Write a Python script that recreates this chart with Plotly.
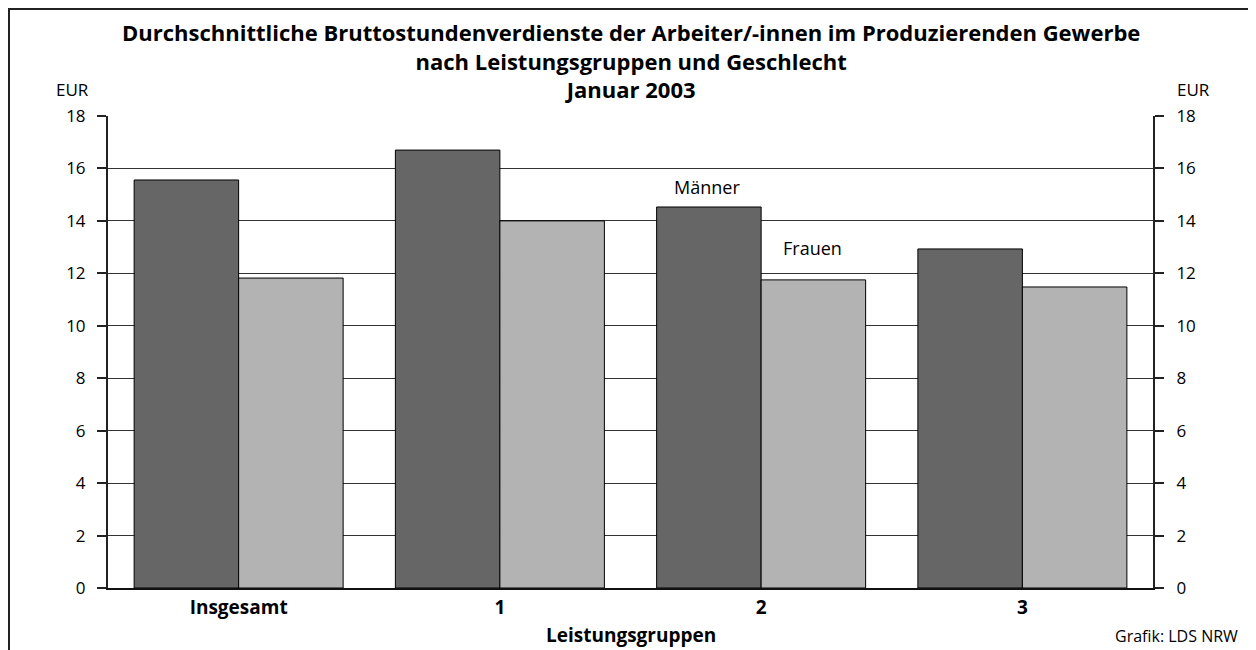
import plotly.graph_objects as go

categories = ["Insgesamt", "1", "2", "3"]
maenner = [15.56, 16.70, 14.53, 12.93]
frauen = [11.82, 14.00, 11.75, 11.48]
tick_vals = [0, 2, 4, 6, 8, 10, 12, 14, 16, 18]
tick_text = ["0", "2", "4", "6", "8", "10", "12", "14", "16", "18"]

title_lines = [
    "Durchschnittliche Bruttostundenverdienste der Arbeiter/-innen im Produzierenden Gewerbe",
    "nach Leistungsgruppen und Geschlecht",
    "Januar 2003",
]

FONT = "Open Sans"
W, H = 1248, 642
ML, MR, MT, MB = 100, 103, 108, 62

def px_x(px):
    return (px - ML) / (W - ML - MR)

def px_y(py):
    return (H - MB - py) / (H - MT - MB)

fig = go.Figure()
fig.add_trace(go.Bar(
    x=categories, y=maenner, name="Männer",
    marker=dict(color="#666666", line=dict(color="#000000", width=1)),
    hoverinfo="skip",
))
fig.add_trace(go.Bar(
    x=categories, y=frauen, name="Frauen",
    marker=dict(color="#b3b3b3", line=dict(color="#000000", width=1)),
    hoverinfo="skip",
))
# invisible helper trace so the right-hand axis is drawn
fig.add_trace(go.Scatter(
    x=[categories[0]], y=[0], yaxis="y2", mode="markers",
    marker=dict(opacity=0), showlegend=False, hoverinfo="skip",
))

axis_common = dict(
    range=[0, 18], tickvals=tick_vals, ticktext=tick_text,
    ticks="outside", ticklen=9, tickwidth=1.5, tickcolor="#222",
    showline=True, linecolor="#222", linewidth=2,
    tickfont=dict(family=FONT, size=17, color="#000"),
    zeroline=False, fixedrange=True,
)

fig.update_layout(
    width=W, height=H,
    margin=dict(l=ML, r=MR, t=MT, b=MB, pad=0),
    paper_bgcolor="white", plot_bgcolor="white",
    barmode="group", bargap=0.2, bargroupgap=0,
    showlegend=False,
    xaxis=dict(
        type="category", showline=True, linecolor="#111", linewidth=2,
        ticks="", tickfont=dict(family=FONT, size=19, color="#000", weight="bold"),
        ticklabelstandoff=1,
        showgrid=False, fixedrange=True,
    ),
    yaxis=dict(showgrid=True, gridcolor="#333", gridwidth=1.2, side="left",
               ticklabelstandoff=8, **axis_common),
    yaxis2=dict(overlaying="y", side="right", showgrid=False,
                ticklabelstandoff=9, **axis_common),
)

# title (three lines)
fig.add_annotation(
    text="<br>".join(title_lines), xref="paper", yref="paper",
    x=px_x(622.5), y=px_y(53),
    xanchor="center", yanchor="middle", align="center", showarrow=False,
    font=dict(family=FONT, size=22, color="#000", weight="bold"),
)

# x-axis title
fig.add_annotation(text="Leistungsgruppen", xref="paper", yref="paper",
                   x=px_x(623), y=px_y(627), xanchor="center", yanchor="middle",
                   showarrow=False,
                   font=dict(family=FONT, size=19, color="#000", weight="bold"))

# EUR labels
fig.add_annotation(text="EUR", xref="paper", yref="paper", x=px_x(83), y=px_y(82),
                   xanchor="right", yanchor="middle", showarrow=False,
                   font=dict(family=FONT, size=17, color="#000"))
fig.add_annotation(text="EUR", xref="paper", yref="paper", x=px_x(1167), y=px_y(82),
                   xanchor="left", yanchor="middle", showarrow=False,
                   font=dict(family=FONT, size=17, color="#000"))
# source
fig.add_annotation(text="Grafik: LDS NRW", xref="paper", yref="paper", x=px_x(1232), y=px_y(628),
                   xanchor="right", yanchor="middle", showarrow=False,
                   font=dict(family=FONT, size=16, color="#000"))
# series labels
fig.add_annotation(text="Männer", x="2", y=15.29, xshift=-54, showarrow=False,
                   xanchor="center", yanchor="middle",
                   font=dict(family=FONT, size=18, color="#000"))
fig.add_annotation(text="Frauen", x="2", y=12.97, xshift=51, showarrow=False,
                   xanchor="center", yanchor="middle",
                   font=dict(family=FONT, size=18, color="#000"))

# outer frame
fig.add_shape(type="rect", xref="paper", yref="paper",
              x0=px_x(1), x1=px_x(1243), y0=px_y(660), y1=px_y(1),
              line=dict(color="#222", width=2), layer="above")

fig.write_html("out.html")
